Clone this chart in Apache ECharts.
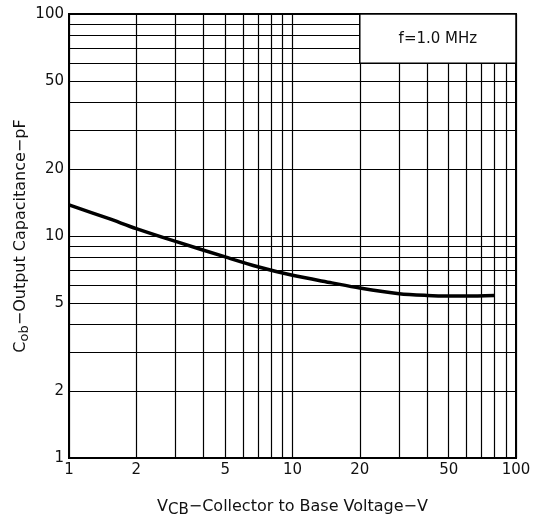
<!DOCTYPE html>
<html>
<head>
<meta charset="utf-8">
<script src="https://cdn.jsdelivr.net/npm/echarts@6/dist/echarts.min.js"></script>
<style>
html,body{margin:0;padding:0;background:#fff;}
#chart{width:534px;height:521px;}
</style>
</head>
<body>
<div id="chart"></div>
<script>
// Data
const vcb = [1, 1.5, 2, 3, 5, 7, 10, 15, 20, 30, 40, 50, 60, 80];
const cob = [13.8, 12.0, 10.8, 9.45, 8.05, 7.27, 6.65, 6.15, 5.83, 5.5, 5.4, 5.37, 5.37, 5.4];
const xGridValues = [1, 2, 3, 4, 5, 6, 7, 8, 9, 10, 20, 30, 40, 50, 60, 70, 80, 90, 100];
const yGridValues = [1, 2, 3, 4, 5, 6, 7, 8, 9, 10, 20, 30, 40, 50, 60, 70, 80, 90, 100];
const xTickLabels = [1, 2, 5, 10, 20, 50, 100];
const yTickLabels = [1, 2, 5, 10, 20, 50, 100];
const noteText = 'f=1.0 MHz';
const noteArea = [[20, 60], [100, 100]];

const FONT = 'DejaVu Sans';
const labelStyle = { color: '#111', fontSize: 15, fontFamily: FONT };

const chart = echarts.init(document.getElementById('chart'));

const xLines = xGridValues.map(v => ({
  xAxis: v,
  label: Object.assign({
    show: xTickLabels.indexOf(v) >= 0,
    formatter: String(v),
    position: 'start',
    distance: 5
  }, labelStyle)
}));
const yLines = yGridValues.map(v => ({
  yAxis: v,
  label: Object.assign({
    show: yTickLabels.indexOf(v) >= 0,
    formatter: String(v),
    position: 'start',
    distance: 5
  }, labelStyle)
}));

chart.setOption({
  animation: false,
  backgroundColor: '#fff',
  grid: {
    left: 69, top: 14, right: 18, bottom: 63,
    outerBoundsMode: 'none', containLabel: false,
    show: true, borderColor: '#000', borderWidth: 2, backgroundColor: '#fff'
  },
  xAxis: {
    type: 'log', logBase: 10, min: 1, max: 100,
    axisLine: { show: false }, axisTick: { show: false },
    axisLabel: { show: false }, splitLine: { show: false },
    name: 'V{s|CB}−Collector to Base Voltage−V',
    nameLocation: 'middle', nameGap: 38,
    nameTextStyle: {
      color: '#111', fontSize: 16, fontFamily: FONT,
      rich: {
        s: { fontSize: 15, fontFamily: FONT, color: '#111', padding: [7, 0, 0, 0] }
      }
    }
  },
  yAxis: {
    type: 'log', logBase: 10, min: 1, max: 100,
    axisLine: { show: false }, axisTick: { show: false },
    axisLabel: { show: false }, splitLine: { show: false },
    name: 'C{s|ob}−Output Capacitance−pF',
    nameLocation: 'middle', nameGap: 38,
    nameTextStyle: {
      color: '#111', fontSize: 16, fontFamily: FONT,
      rich: {
        s: { fontSize: 13, fontFamily: FONT, color: '#111', padding: [7, 0, 0, 0] }
      }
    }
  },
  series: [
    {
      type: 'line', data: [], z: 1, silent: true,
      markLine: {
        silent: true, symbol: ['none', 'none'], animation: false, z: 2,
        lineStyle: { color: '#000', width: 1.2, type: 'solid' },
        emphasis: { disabled: true },
        data: xLines.concat(yLines)
      }
    },
    {
      type: 'line', data: [], z: 6, silent: true,
      markArea: {
        silent: true, z: 10,
        itemStyle: { color: '#fff', borderColor: '#000', borderWidth: 1.5 },
        label: {
          show: true, position: 'inside', formatter: noteText,
          color: '#111', fontSize: 15, fontFamily: FONT
        },
        data: [[{ coord: noteArea[0] }, { coord: noteArea[1] }]]
      }
    },
    {
      type: 'line', z: 5, smooth: 0.3, symbol: 'none',
      lineStyle: { color: '#000', width: 3.5 },
      data: vcb.map((v, i) => [v, cob[i]])
    }
  ]
});
</script>
</body>
</html>
